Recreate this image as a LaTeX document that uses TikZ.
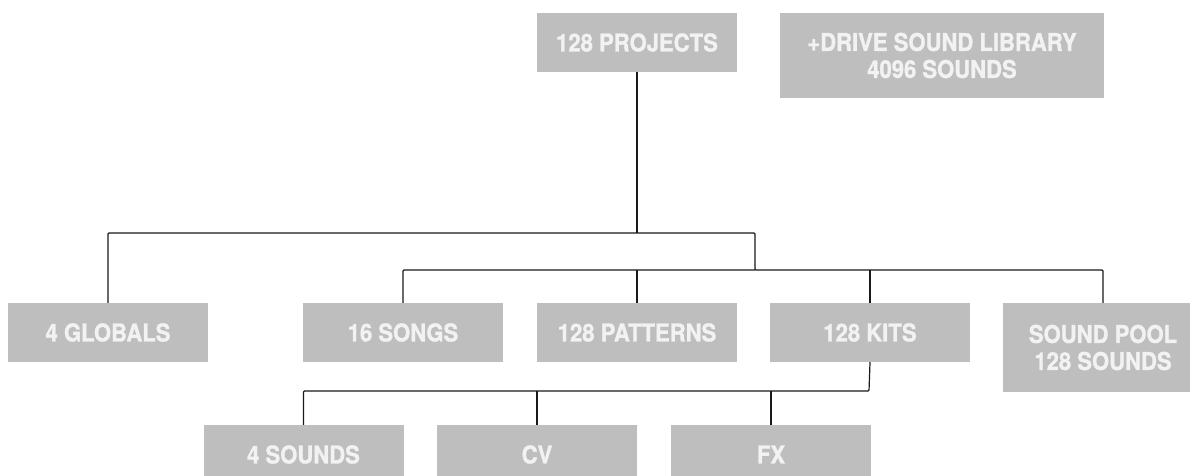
\documentclass[tikz,border=0pt]{standalone}
\usepackage{fontspec}
\setmainfont{TeX Gyre Heros}[FakeStretch=0.9, BoldFeatures={FakeBold=1.2, FakeStretch=0.9}]
\usepackage{xcolor}
\usepackage{tikz}

\definecolor{boxgray}{HTML}{BEBEBE}
\definecolor{boxtext}{HTML}{F2F2F2}

\tikzset{
  item/.style={fill=boxgray, text=boxtext, inner sep=0pt, minimum width=200pt,
    minimum height=59pt, align=center, font=\fontsize{24.5}{27}\selectfont\bfseries},
  wire/.style={draw=black!90, line width=1.2pt, rounded corners=1pt},
}

\begin{document}
\begin{tikzpicture}[x=1pt, y=-1pt]
        \useasboundingbox (0,0) rectangle (1190,475);
        %% top row
        \node[item] (proj) at (637,42.5) {128 PROJECTS};
        \node[item, minimum width=324pt, minimum height=85pt] (drive) at (942,55.5) {+DRIVE SOUND LIBRARY\\4096 SOUNDS};
        %% middle row
        \node[item] (glob) at (108,332.5) {4 GLOBALS};
        \node[item] (songs) at (403,332.5) {16 SONGS};
        \node[item] (pat) at (637,332.5) {128 PATTERNS};
        \node[item] (kits) at (870,332.5) {128 KITS};
        \node[item, minimum height=89pt] (pool) at (1103,347.5) {SOUND POOL\\128 SOUNDS};
        %% bottom row
        \node[item] (snd) at (303.5,454.5) {4 SOUNDS};
        \node[item] (cv) at (537,454.5) {CV};
        \node[item] (fx) at (771,454.5) {FX};
        %% busses
        \coordinate (busa) at (755,233);
        \coordinate (busb) at (755,270);
        \coordinate (busc) at (869,391);
        %% connectors
        \draw[wire] (proj.south) -- (proj.south |- busa);
        \draw[wire] (glob.north) |- (busa) -- (busb) -| (pool.north);
        \draw[wire] (songs.north) |- (busb);
        \draw[wire] (pat.north) -- (pat.north |- busb);
        \draw[wire] (kits.north) -- (kits.north |- busb);
        \draw[wire] (kits.south) -- (busc) -| (snd.north);
        \draw[wire] (cv.north) -- (cv.north |- busc);
        \draw[wire] (fx.north) -- (fx.north |- busc);
    \end{tikzpicture}
\end{document}
